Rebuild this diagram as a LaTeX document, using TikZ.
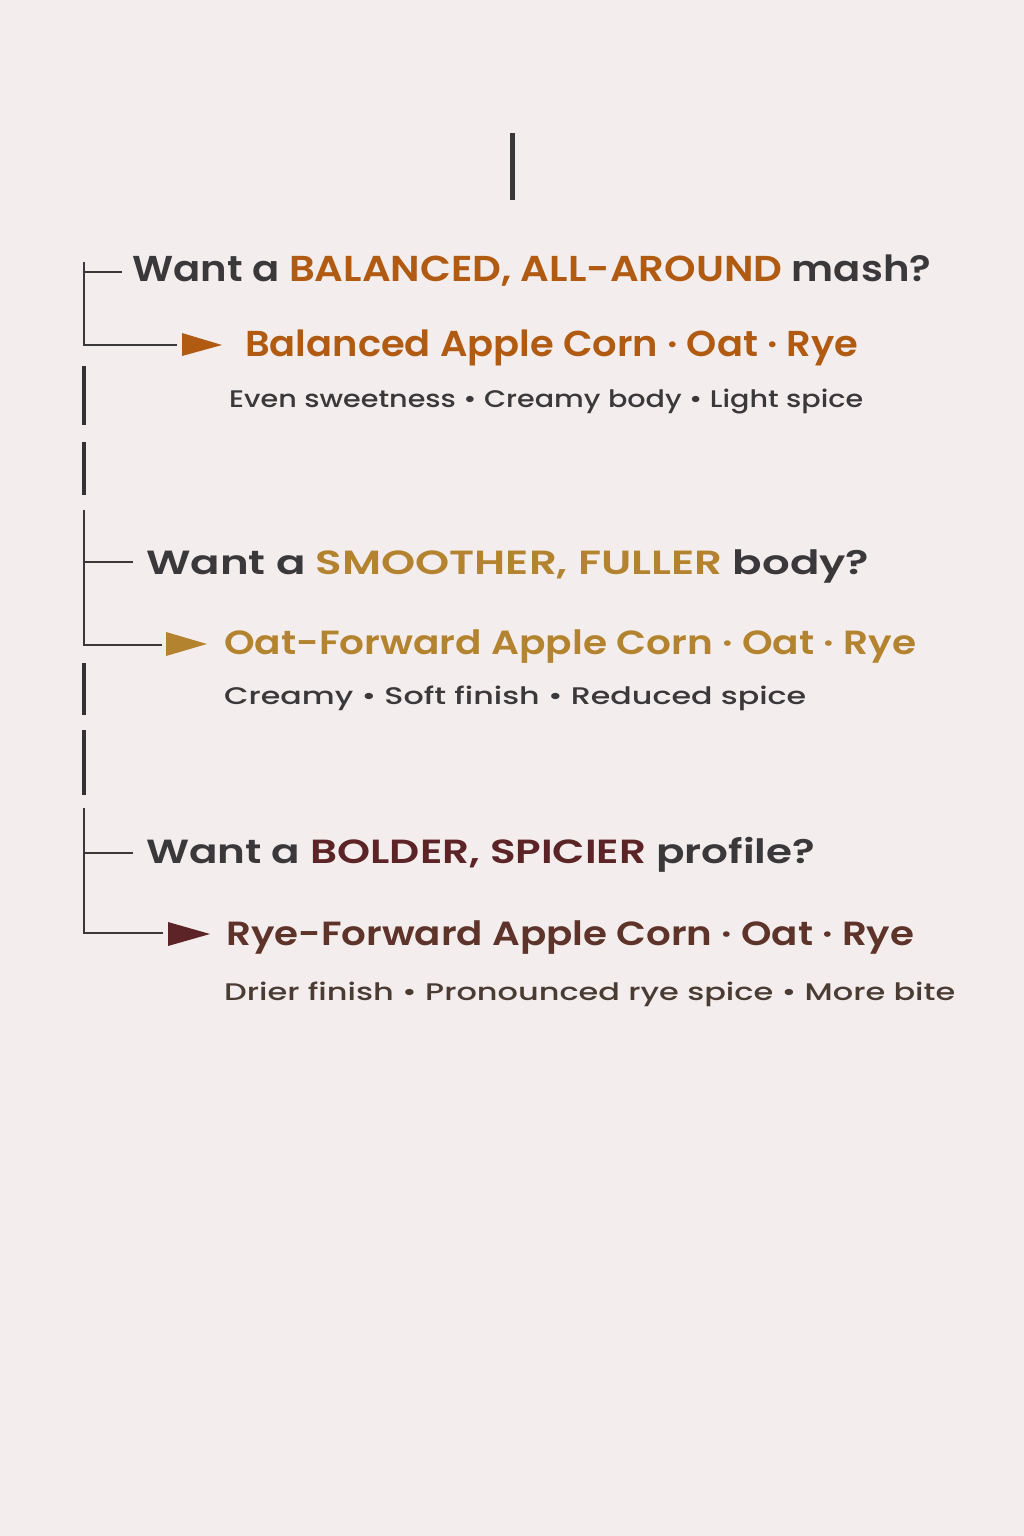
\documentclass[tikz,border=0pt]{standalone}
\usepackage{fontspec}
\usepackage{graphicx}
\setmainfont{Poppins}[UprightFont=*-Medium]
\newfontfamily\semib{Poppins}[UprightFont=*-SemiBold]
\definecolor{paper}{HTML}{F3EEED}
\definecolor{ink}{HTML}{3B383B}
\definecolor{accA}{HTML}{B05A12}
\definecolor{accB}{HTML}{B4832F}
\definecolor{accC}{HTML}{5C2427}
\definecolor{resC}{HTML}{5E3329}
\definecolor{descC}{HTML}{4A3B33}
\newcommand{\fitw}[2]{\resizebox{#1pt}{\height}{#2}}
\tikzset{
  question/.style={anchor=base west, inner sep=0pt, text=ink},
  result/.style={anchor=base west, inner sep=0pt},
  detail/.style={anchor=base west, inner sep=0pt, text=ink, font=\fontsize{24}{28}\selectfont},
  bigtext/.style={font=\semib\fontsize{36}{40}\selectfont},
  midtext/.style={font=\semib\fontsize{33.5}{38}\selectfont},
  bracket/.style={draw=ink, line width=2pt},
  spine/.style={draw=ink!90!black, line width=4pt},
  pointer/.style={fill=#1}
}
\begin{document}
\begin{tikzpicture}[x=1pt,y=-1pt]
\fill[paper] (0,0) rectangle (1024,1536);
\useasboundingbox (0,0) rectangle (1024,1536);
% top line
\coordinate (t1) at (512,133);
\coordinate (t2) at (512,200);
\draw[draw=ink, line width=5pt] (t1) -- (t2);

% Section 1
\node[question, bigtext] (q1) at (132,281) {\fitw{799}{Want a \textcolor{accA}{BALANCED, ALL-AROUND} mash?}};
\node[result, bigtext, text=accA] (r1) at (245,356) {\fitw{613}{Balanced Apple Corn · Oat · Rye}};
\node[detail] (d1) at (229,407) {\fitw{634}{Even sweetness • Creamy body • Light spice}};
\coordinate (a1top) at (84,262);
\coordinate (a1tick) at (84,272);
\coordinate (a1tickend) at (122,272);
\coordinate (a1bot) at (84,345);
\coordinate (a1end) at (177,345);
\draw[bracket] (a1top) -- (a1bot) -- (a1end);
\draw[bracket] (a1tick) -- (a1tickend);
\fill[pointer=accA] (182,333) -- (222,345) -- (182,356) -- cycle;

% spine segments 1-2
\coordinate (s1a) at (84,366); \coordinate (s1b) at (84,425);
\coordinate (s2a) at (84,442); \coordinate (s2b) at (84,495);
\draw[spine] (s1a) -- (s1b);
\draw[spine] (s2a) -- (s2b);

% Section 2
\node[question, midtext] (q2) at (146,574) {\fitw{723}{Want a \textcolor{accB}{SMOOTHER, FULLER} body?}};
\node[result, midtext, text=accB] (r2) at (224,654) {\fitw{692}{Oat-Forward Apple Corn · Oat · Rye}};
\node[detail] (d2) at (224,704) {\fitw{582}{Creamy • Soft finish • Reduced spice}};
\coordinate (a2top) at (84,510);
\coordinate (a2tick) at (84,562);
\coordinate (a2tickend) at (133,562);
\coordinate (a2bot) at (84,645);
\coordinate (a2end) at (162,645);
\draw[bracket] (a2top) -- (a2bot) -- (a2end);
\draw[bracket] (a2tick) -- (a2tickend);
\fill[pointer=accB] (166,632) -- (207,644) -- (166,656) -- cycle;

% spine segments 2-3
\coordinate (s3a) at (84,663); \coordinate (s3b) at (84,715);
\coordinate (s4a) at (84,730); \coordinate (s4b) at (84,795);
\draw[spine] (s3a) -- (s3b);
\draw[spine] (s4a) -- (s4b);

% Section 3
\node[question, midtext] (q3) at (146,863) {\fitw{669}{Want a \textcolor{accC}{BOLDER, SPICIER} profile?}};
\node[result, midtext, text=resC] (r3) at (226,945) {\fitw{688}{Rye-Forward Apple Corn · Oat · Rye}};
\node[detail, text=descC] (d3) at (224,1000) {\fitw{731}{Drier finish • Pronounced rye spice • More bite}};
\coordinate (a3top) at (84,808);
\coordinate (a3tick) at (84,853);
\coordinate (a3tickend) at (133,853);
\coordinate (a3bot) at (84,933);
\coordinate (a3end) at (163,933);
\draw[bracket] (a3top) -- (a3bot) -- (a3end);
\draw[bracket] (a3tick) -- (a3tickend);
\fill[pointer=accC] (168,922) -- (210,934) -- (168,946) -- cycle;
\end{tikzpicture}
\end{document}
